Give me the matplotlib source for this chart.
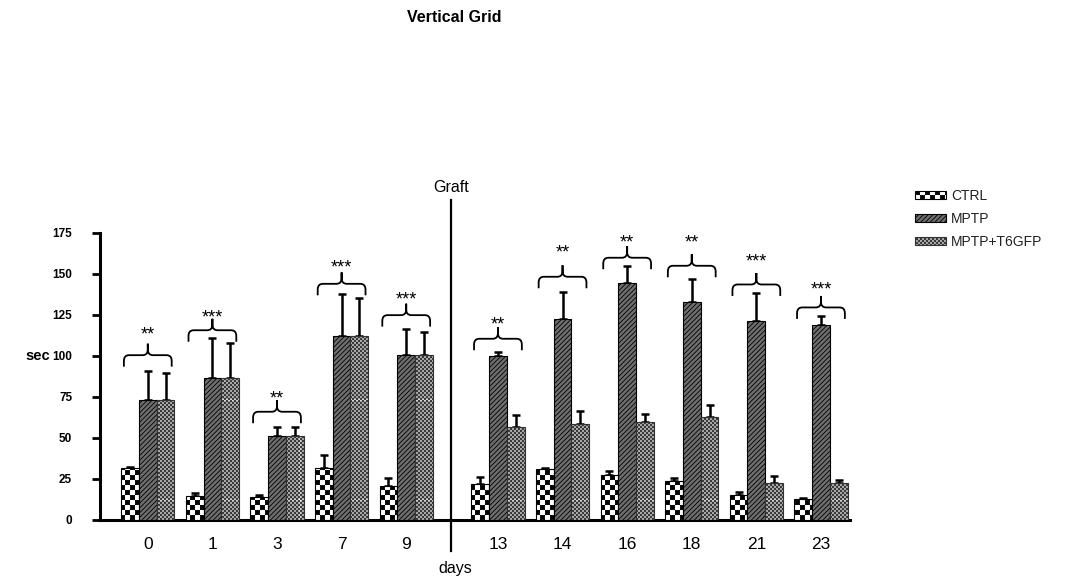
import functools
import numpy as np
import matplotlib
matplotlib.use("Agg")
import matplotlib.pyplot as plt
import matplotlib.hatch as mhatch
from matplotlib.path import Path
from matplotlib.patches import PathPatch

plt.rcParams['font.family'] = ['Liberation Sans', 'DejaVu Sans']
plt.rcParams['hatch.linewidth'] = 0.6

# data
days = ['0', '1', '3', '7', '9', '13', '14', '16', '18', '21', '23']
ctrl = [32, 14.6, 13.8, 31.5, 20.9, 22, 31, 27.4, 24, 15, 12.8]
ctrl_err = [0.5, 2, 1.4, 8, 4.5, 4, 0.5, 2.5, 1.8, 2, 0.7]
mptp = [73, 86.8, 51.2, 112, 100.6, 100.2, 122.6, 144.3, 132.7, 121.3, 118.9]
mptp_err = [18, 24, 5.7, 25.8, 15.7, 2, 16.4, 10.6, 14.5, 16.9, 5.7]
t6 = [73, 86.8, 51.2, 112, 100.6, 56.5, 58.5, 60, 63, 22.4, 22.4]
t6_err = [16.5, 21.2, 5.3, 23.5, 14.2, 7.5, 8.1, 4.4, 7, 4.6, 2]

stars = ['**', '***', '**', '***', '***', '**', '**', '**', '**', '***', '***']
brace_base = [93.5, 108.7, 59, 137, 117.9, 103.5, 141.3, 152.9, 148, 136.6, 122.6]
star_y = [114, 124, 75, 154.5, 135, 120, 164, 170, 170, 158.5, 141.3]


# checkerboard hatches ('O' = coarse, 'o' = fine)
class CheckerHatch(mhatch.HatchPatternBase):
    def __init__(self, hatch, density, char='O', cells=20, inset=0.004):
        n = hatch.count(char)
        self.cells = cells * n
        self.inset = inset
        self.num_vertices = 5 * ((self.cells * self.cells + 1) // 2) if n else 0

    def set_vertices_and_codes(self, vertices, codes):
        s = 1.0 / self.cells
        w = s - 2 * self.inset
        k = 0
        for r in range(self.cells):
            for c in range(self.cells):
                if (r + c) % 2:
                    continue
                x0 = c * s + self.inset
                y0 = r * s + self.inset
                vertices[k:k + 5] = [(x0, y0), (x0 + w, y0), (x0 + w, y0 + w),
                                     (x0, y0 + w), (x0, y0)]
                codes[k:k + 5] = [Path.MOVETO, Path.LINETO, Path.LINETO,
                                  Path.LINETO, Path.CLOSEPOLY]
                k += 5


mhatch._hatch_types = [
    mhatch.HorizontalHatch, mhatch.VerticalHatch,
    mhatch.NorthEastHatch, mhatch.SouthEastHatch,
    functools.partial(CheckerHatch, char='O', cells=20, inset=0.004),
    functools.partial(CheckerHatch, char='o', cells=50, inset=0.002),
]

fig = plt.figure(figsize=(10.66, 5.81), dpi=100)
ax = fig.add_axes([0.0938, 0.105, 0.7036, 0.494])

x = np.arange(len(days), dtype=float)
x[5:] += 0.42
w = 0.275

b1 = ax.bar(x - w, ctrl, w, facecolor='white', edgecolor='black', hatch='O',
            lw=0.8, label='CTRL', zorder=3)
b2 = ax.bar(x, mptp, w, facecolor='#6e6e6e', edgecolor='black', hatch='///////',
            lw=0.8, label='MPTP', zorder=3)
b3 = ax.bar(x + w, t6, w, facecolor='white', edgecolor='#333333', hatch='o',
            lw=0.8, label='MPTP+T6GFP', zorder=3)

for off, vals, errs in [(-w, ctrl, ctrl_err), (0, mptp, mptp_err), (w, t6, t6_err)]:
    ax.errorbar(x + off, vals, yerr=[np.zeros(len(vals)), errs], fmt='none',
                ecolor='black', elinewidth=1.8, capsize=3, capthick=1.8, zorder=2)

# curly braces with significance stars
hw, rx, ry, depth = 0.37, 0.08, 3.5, 7.0
for xc, yb, s, sy in zip(x, brace_base, stars, star_y):
    yh = yb + depth
    yp = yh + depth
    verts, codes = [], []
    for sign in (-1, 1):
        xe = xc + sign * hw
        verts += [(xe, yb), (xe, yh - ry), (xe, yh), (xe - sign * rx, yh),
                  (xc + sign * rx, yh), (xc, yh), (xc, yh + ry), (xc, yp)]
        codes += [Path.MOVETO, Path.LINETO, Path.CURVE3, Path.CURVE3,
                  Path.LINETO, Path.CURVE3, Path.CURVE3, Path.LINETO]
    ax.add_patch(PathPatch(Path(verts, codes), facecolor='none', edgecolor='black',
                           lw=1.3, clip_on=False, zorder=4))
    ax.text(xc, sy - 1, s, ha='center', va='center', fontsize=13, clip_on=False)

# graft line
graft_x = 4.69
ax.plot([graft_x, graft_x], [-19, 195], color='black', lw=1.6, clip_on=False, zorder=5)
ax.text(graft_x, 203, 'Graft', ha='center', va='center', fontsize=11.5)

ax.set_xlim(-0.74, 10.87)
ax.set_ylim(0, 175)
ax.set_yticks([0, 25, 50, 75, 100, 125, 150, 175])
ax.set_xticks(x)
ax.set_xticklabels(days, fontsize=12.5)
ax.tick_params(axis='x', length=0, pad=12)
ax.tick_params(axis='y', direction='out', length=6, width=2, pad=14, labelsize=8.5)
for lab in ax.get_yticklabels():
    lab.set_fontweight('bold')
for side in ['top', 'right']:
    ax.spines[side].set_visible(False)
for side in ['left', 'bottom']:
    ax.spines[side].set_linewidth(2.2)

fig.text(454 / 1066, 1 - 18 / 581, 'Vertical Grid', ha='center', va='center',
         fontsize=11.5, fontweight='bold')
fig.text(38 / 1066, 1 - 356 / 581, 'sec', ha='center', va='center',
         fontsize=10.5, fontweight='bold')
fig.text(455 / 1066, 1 - 568 / 581, 'days', ha='center', va='center', fontsize=11.5)

leg = fig.legend(handles=[b1, b2, b3], loc='upper left',
                 bbox_to_anchor=(0.852, 0.686), frameon=False, fontsize=10,
                 handlelength=2.2, handleheight=0.5, handletextpad=0.4,
                 labelspacing=0.62, borderpad=0)
for t in leg.get_texts():
    t.set_color('#222222')

fig.savefig('out.png', dpi=100)
